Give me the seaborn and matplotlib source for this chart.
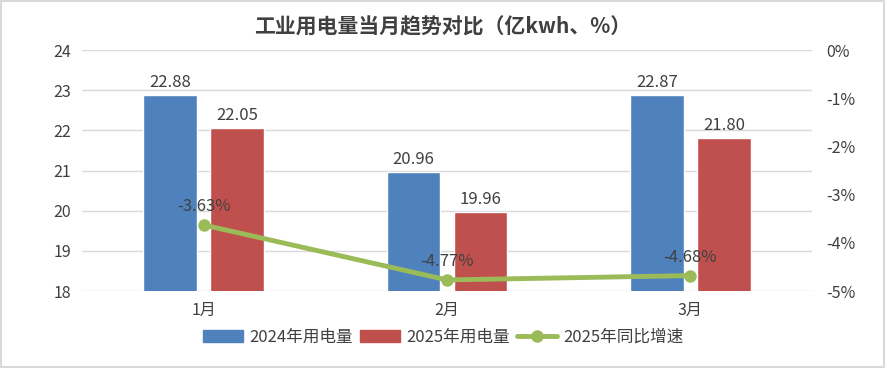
import seaborn as sns
import matplotlib.pyplot as plt
import pandas as pd
from matplotlib.patches import Rectangle
from matplotlib.lines import Line2D
from matplotlib.ticker import FuncFormatter

months = ["1月", "2月", "3月"]
use_2024 = [22.88, 20.96, 22.87]
use_2025 = [22.05, 19.96, 21.80]
growth_2025 = [-3.63, -4.77, -4.68]
series_names = ["2024年用电量", "2025年用电量"]
line_name = "2025年同比增速"

blue, red, green = "#4F81BD", "#C0504D", "#9BBB59"
text_color = "#404040"

sns.set_theme(style="white")
plt.rcParams['font.family'] = ['Noto Sans CJK SC', 'DejaVu Sans']

df = pd.DataFrame({
    "month": months * 2,
    "value": use_2024 + use_2025,
    "series": [series_names[0]] * 3 + [series_names[1]] * 3,
})

fig = plt.figure(figsize=(8.86, 3.68), dpi=100)
ax = fig.add_axes([0.0926, 0.2092, 0.824, 0.6548])

sns.barplot(data=df, x="month", y="value", hue="series", palette=[blue, red],
            width=0.55, gap=0.2, ax=ax, legend=False, saturation=1)
ax.set_ylim(18, 24)
ax.set_xlim(-0.5, 2.5)
ax.set_yticks(range(18, 25))
ax.yaxis.grid(True, color="#D9D9D9", linewidth=1)
ax.set_axisbelow(True)
for s in ax.spines.values():
    s.set_visible(False)
ax.set_xlabel("")
ax.set_ylabel("")
ax.tick_params(axis="both", labelsize=11.5, colors=text_color, length=0, pad=8)

for cont in ax.containers:
    ax.bar_label(cont, fmt="%.2f", padding=3, fontsize=12, color=text_color)

ax2 = ax.twinx()
sns.lineplot(x=list(range(len(months))), y=growth_2025, ax=ax2, color=green,
             linewidth=3.5, marker="o", markersize=9, markeredgewidth=0)
ax2.set_ylim(-5, 0)
ax2.set_yticks(range(-5, 1))
ax2.yaxis.set_major_formatter(FuncFormatter(lambda v, p: f"{int(v)}%"))
ax2.tick_params(axis="y", labelsize=11.5, colors=text_color, length=0, pad=10)
for s in ax2.spines.values():
    s.set_visible(False)
for i, g in enumerate(growth_2025):
    ax2.annotate(f"{g:.2f}%", (i, g), xytext=(0, 7), textcoords="offset points",
                 ha="center", va="bottom", fontsize=12, color=text_color)

fig.suptitle("工业用电量当月趋势对比（亿kwh、%）", y=0.955, fontsize=15,
             fontweight="bold", color=text_color)

handles = [Rectangle((0, 0), 1, 1, color=blue), Rectangle((0, 0), 1, 1, color=red),
           Line2D([0], [0], color=green, linewidth=3.5, marker="o", markersize=8)]
fig.legend(handles, series_names + [line_name], loc="center", bbox_to_anchor=(0.5, 0.083),
           ncol=3, frameon=False, fontsize=12, handlelength=2.4, handleheight=0.7,
           columnspacing=0.4, handletextpad=0.4, labelcolor=text_color)

fig.patches.append(Rectangle((0.001, 0.002), 0.997, 0.995, transform=fig.transFigure,
                             fill=False, edgecolor="#D9D9D9", linewidth=1.5))

fig.savefig("out.png", dpi=100)
